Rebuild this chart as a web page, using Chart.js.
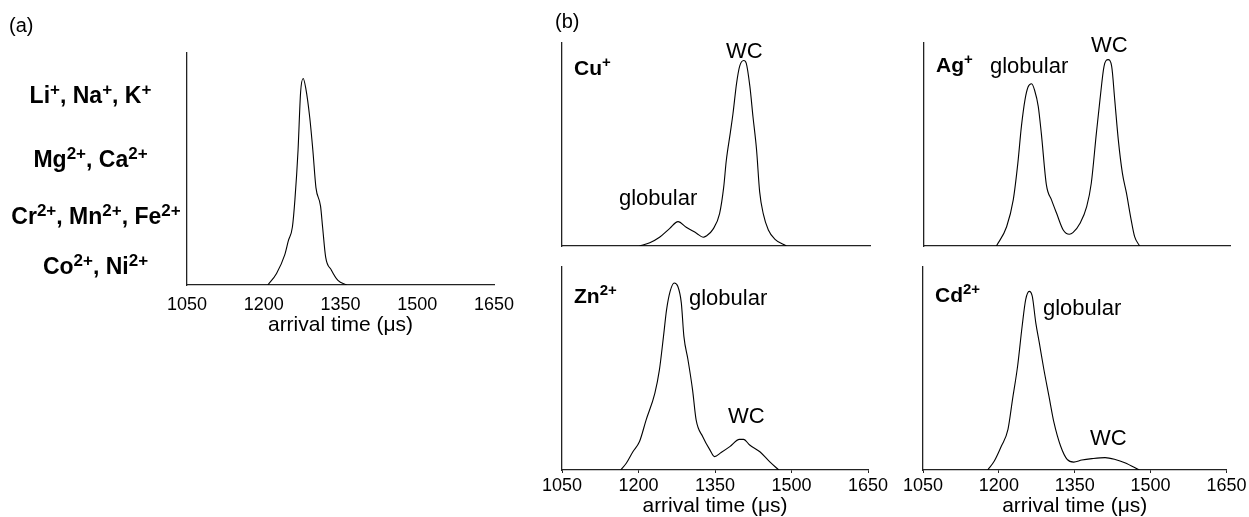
<!DOCTYPE html>
<html>
<head>
<meta charset="utf-8">
<script src="https://cdn.jsdelivr.net/npm/chart.js@4.4.0/dist/chart.umd.min.js"></script>
<style>
  body { margin: 0; background: #fff; }
  #wrap { position: relative; width: 1249px; height: 517px; }
  #wrap canvas { position: absolute; left: 0; top: 0; }
</style>
</head>
<body>
<div id="wrap">
  <canvas id="chartA" width="1249" height="517"></canvas>
  <canvas id="chartCu" width="1249" height="517"></canvas>
  <canvas id="chartAg" width="1249" height="517"></canvas>
  <canvas id="chartZn" width="1249" height="517"></canvas>
  <canvas id="chartCd" width="1249" height="517"></canvas>
</div>
<script>
// arrival time (us) and intensity (% of axis height)
const timeA = [1208, 1225, 1241, 1248, 1256, 1261, 1267, 1272, 1277, 1282, 1290, 1296, 1302, 1311, 1315, 1321, 1332, 1345, 1362];
const intA  = [0, 5, 13, 19, 25, 37, 58, 83, 89, 85, 72, 58, 42, 34, 25, 12, 6.5, 2, 0];

const timeCu = [1201, 1221, 1240, 1260, 1276, 1292, 1312, 1325, 1331, 1344, 1357, 1365, 1370, 1378, 1383, 1390, 1396, 1404, 1409, 1416, 1422, 1429, 1435, 1442, 1452, 1465, 1487];
const intCu  = [0, 1.6, 4.3, 8.7, 12, 9.2, 6.3, 4.3, 4.9, 8.2, 16, 29, 42, 56, 65, 80, 88.5, 91.4, 90, 78.6, 63.8, 47.4, 26.8, 16, 7.9, 3.3, 0];

const timeAg = [1192, 1212, 1225, 1234, 1241, 1248, 1254, 1261, 1267, 1274, 1280, 1290, 1300, 1310, 1323, 1335, 1342, 1356, 1369, 1378, 1388, 1395, 1403, 1411, 1418, 1424, 1431, 1439, 1447, 1455, 1463, 1473];
const intAg  = [0, 9.5, 22.7, 40.8, 58.9, 72, 78.3, 79.9, 76.6, 68.8, 55.6, 30.1, 22.7, 16.1, 7.9, 5.8, 6.6, 11.2, 19.4, 30.9, 55.6, 72, 88.5, 91.8, 88.5, 72, 52.3, 35.9, 26, 14.5, 4.6, 0];

const timeZn = [1165, 1176, 1189, 1202, 1215, 1232, 1241, 1249, 1255, 1262, 1270, 1277, 1284, 1289, 1297, 1306, 1313, 1326, 1340, 1349, 1362, 1379, 1398, 1406, 1418, 1438, 1457, 1475];
const intZn  = [0, 3.3, 9, 14, 24.7, 37.8, 49.3, 65.8, 78.9, 88, 92.1, 90.5, 82.2, 65.8, 54.3, 39.5, 24.7, 16.4, 9.9, 6.6, 8.6, 11.5, 15.1, 15.1, 12.3, 9, 4.1, 0];

const timeCd = [1178, 1191, 1205, 1218, 1227, 1237, 1246, 1253, 1260, 1266, 1273, 1280, 1289, 1299, 1309, 1322, 1335, 1348, 1364, 1384, 1410, 1430, 1449, 1478];
const intCd  = [0, 4.4, 11.8, 20, 34.8, 51.1, 70.8, 83.9, 88, 85.6, 72.5, 62.6, 49.5, 36.4, 23.3, 11.8, 5.2, 3.9, 4.9, 5.6, 6.1, 5.2, 3.6, 0];

const xTicks = [1050, 1200, 1350, 1500, 1650];
const xTitle = 'arrival time (\u03BCs)';

const FONT = '"Liberation Sans", Arial, sans-serif';

// text with ^{...} superscripts, drawn on the canvas
function drawRich(ctx, it) {
  const parts = it.text.split(/\^\{([^}]*)\}/);
  const main = (it.bold ? 'bold ' : '') + it.size + 'px ' + FONT;
  const sup = (it.bold ? 'bold ' : '') + Math.round(it.size * 0.72) + 'px ' + FONT;
  let w = 0;
  parts.forEach(function(p, i) { ctx.font = i % 2 ? sup : main; w += ctx.measureText(p).width; });
  let x = it.center !== undefined ? it.center - w / 2 : it.x;
  ctx.save();
  ctx.fillStyle = '#000';
  ctx.textAlign = 'left';
  ctx.textBaseline = 'alphabetic';
  parts.forEach(function(p, i) {
    ctx.font = i % 2 ? sup : main;
    ctx.fillText(p, x, i % 2 ? it.y - it.size * 0.36 : it.y);
    x += ctx.measureText(p).width;
  });
  ctx.restore();
}

const notesPlugin = {
  id: 'notes',
  afterDraw(chart, args, opts) {
    (opts.items || []).forEach(function(it) { drawRich(chart.ctx, it); });
  }
};

function makeChart(id, times, values, box, notes) {
  const pts = times.map(function(t, i) { return {x: t, y: values[i]}; });
  const xHeight = box.scaleBottom - box.bottom;
  return new Chart(document.getElementById(id), {
    type: 'line',
    data: {
      datasets: [{
        data: pts,
        borderColor: '#000',
        borderWidth: 1.1,
        pointRadius: 0,
        cubicInterpolationMode: 'monotone',
        fill: false
      }]
    },
    options: {
      responsive: false,
      animation: false,
      devicePixelRatio: 1,
      events: [],
      layout: {
        padding: {left: box.left, right: 1249 - box.right, top: box.top, bottom: 517 - box.scaleBottom}
      },
      plugins: {
        legend: {display: false},
        tooltip: {enabled: false},
        notes: {items: notes}
      },
      scales: {
        x: {
          type: 'linear',
          min: 1050,
          max: 1650,
          afterBuildTicks: function(scale) { scale.ticks = xTicks.map(function(v) { return {value: v}; }); },
          afterFit: function(scale) { scale.height = xHeight; },
          border: {display: true, color: '#222', width: 1.3},
          grid: box.marks
            ? {display: true, drawOnChartArea: false, drawTicks: true, tickLength: 3, color: '#222', lineWidth: 1}
            : {display: false, drawTicks: false},
          ticks: {
            display: box.labels,
            padding: box.tickPad,
            maxRotation: 0,
            autoSkip: false,
            color: '#000',
            font: {family: FONT, size: 18},
            callback: function(v) { return String(v); }
          },
          title: {
            display: box.labels,
            text: xTitle,
            color: '#000',
            padding: 0,
            font: {family: FONT, size: 21, lineHeight: 1}
          }
        },
        y: {
          min: 0,
          max: 100,
          afterFit: function(scale) { scale.width = 0; },
          border: {display: true, color: '#222', width: 1.3},
          grid: {display: false, drawTicks: false},
          ticks: {display: false}
        }
      }
    },
    plugins: [notesPlugin]
  });
}

makeChart('chartA', timeA, intA,
  {left: 187, right: 494, top: 53, bottom: 285, scaleBottom: 336, labels: true, marks: false, tickPad: 9},
  [
    {text: '(a)', x: 9, y: 32, size: 20},
    {text: 'Li^{+}, Na^{+}, K^{+}', center: 90.5, y: 103, size: 23, bold: true},
    {text: 'Mg^{2+}, Ca^{2+}', center: 90.5, y: 167, size: 23, bold: true},
    {text: 'Cr^{2+}, Mn^{2+}, Fe^{2+}', center: 96, y: 224, size: 23, bold: true},
    {text: 'Co^{2+}, Ni^{2+}', center: 95.5, y: 274, size: 23, bold: true}
  ]);

makeChart('chartCu', timeCu, intCu,
  {left: 562, right: 870, top: 43, bottom: 246, scaleBottom: 256, labels: false, marks: false, tickPad: 0},
  [
    {text: '(b)', x: 555, y: 28, size: 20},
    {text: 'Cu^{+}', x: 574, y: 75, size: 21, bold: true},
    {text: 'globular', x: 619, y: 205, size: 22},
    {text: 'WC', x: 726, y: 58, size: 22}
  ]);

makeChart('chartAg', timeAg, intAg,
  {left: 924, right: 1230, top: 43, bottom: 246, scaleBottom: 256, labels: false, marks: false, tickPad: 0},
  [
    {text: 'Ag^{+}', x: 936, y: 72, size: 21, bold: true},
    {text: 'globular', x: 990, y: 73, size: 22},
    {text: 'WC', x: 1091, y: 52, size: 22}
  ]);

makeChart('chartZn', timeZn, intZn,
  {left: 562, right: 868, top: 267, bottom: 470, scaleBottom: 517, labels: true, marks: true, tickPad: 2.5},
  [
    {text: 'Zn^{2+}', x: 574, y: 303, size: 21, bold: true},
    {text: 'globular', x: 689, y: 305, size: 22},
    {text: 'WC', x: 728, y: 423, size: 22}
  ]);

makeChart('chartCd', timeCd, intCd,
  {left: 923, right: 1229, top: 267, bottom: 470, scaleBottom: 517, labels: true, marks: true, tickPad: 2.5},
  [
    {text: 'Cd^{2+}', x: 935, y: 302, size: 21, bold: true},
    {text: 'globular', x: 1043, y: 315, size: 22},
    {text: 'WC', x: 1090, y: 445, size: 22}
  ]);
</script>
</body>
</html>
